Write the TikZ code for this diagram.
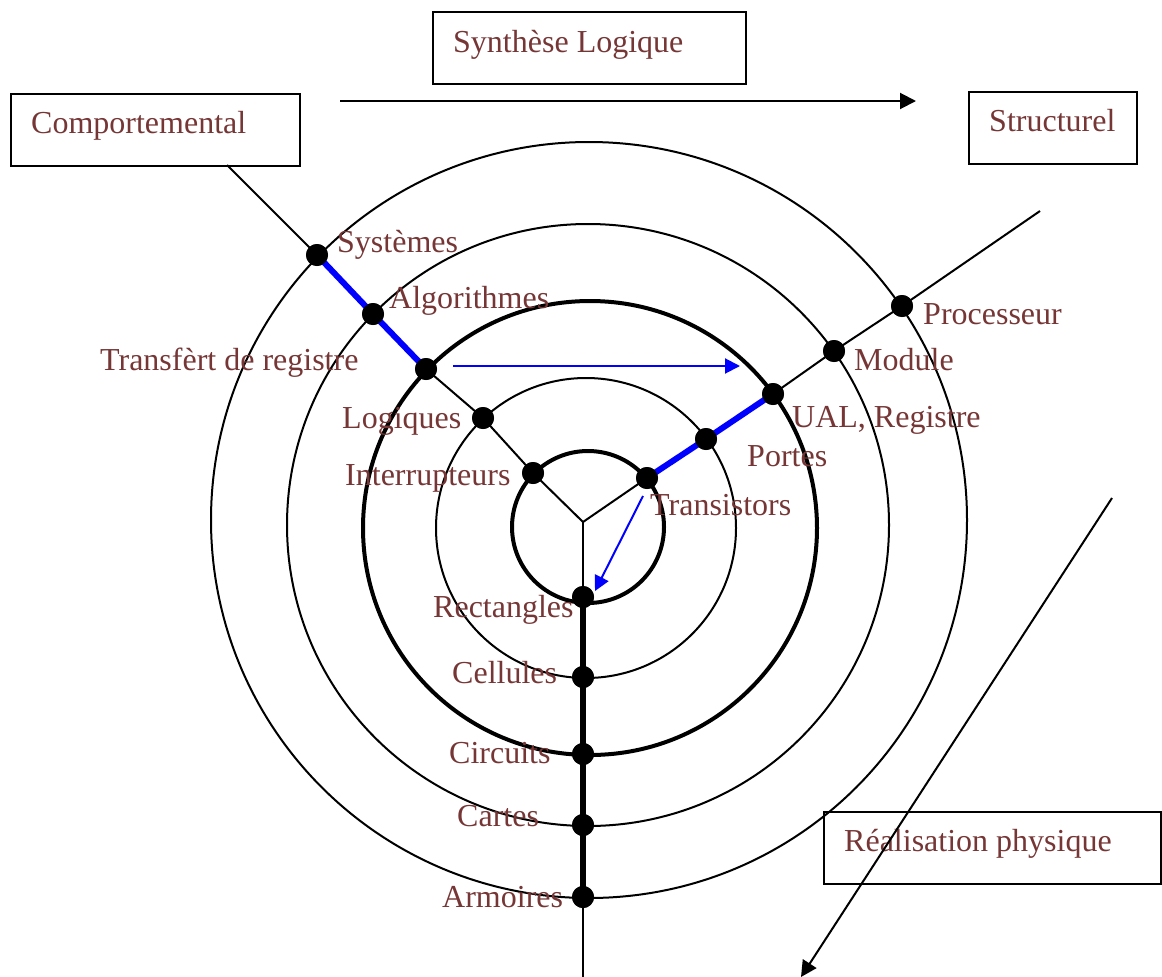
\documentclass[tikz,border=0pt]{standalone}
\usepackage{fontspec}
\setmainfont{Liberation Serif}
\usetikzlibrary{arrows.meta}
\definecolor{labelred}{RGB}{118,54,54}
\begin{document}
\begin{tikzpicture}[x=1pt,y=-1pt,
  every node/.style={font=\fontsize{32}{38}\selectfont},
  lab/.style={text=labelred, anchor=base west, inner sep=0pt},
  dot/.style={circle, fill=black, minimum size=22pt, inner sep=0pt},
  ring/.style={line width=2pt},
  thickring/.style={line width=4pt},
  axis/.style={line width=2pt},
  hl/.style={blue, line width=6pt},
  frame/.style={draw, line width=2pt, inner sep=0pt, anchor=north west},
  blacktip/.style={line width=2pt, -{Triangle[length=16pt,width=16pt]}},
  bluetip/.style={blue, line width=2pt, -{Triangle[length=15pt,width=15pt]}}
]
\useasboundingbox (0,0) rectangle (1162,977);

% concentric levels of abstraction
\draw[thickring] (588,527) circle[radius=76pt];
\draw[ring]      (586,528) circle[radius=150pt];
\draw[thickring] (590,528) circle[radius=227pt];
\draw[ring]      (588,525) circle[radius=301pt];
\draw[ring]      (589,520) circle[radius=378pt];

% centre and free ends of the three axes
\coordinate (c)     at (583,522);
\coordinate (ulend) at (227,165);
\coordinate (rend)  at (1040,211);
\coordinate (dend)  at (583,977);

% points on the behavioural axis
\node[dot] (inter) at (533,473) {};
\node[dot] (logi)  at (483,418) {};
\node[dot] (trans) at (426,369) {};
\node[dot] (algo)  at (373,314) {};
\node[dot] (sys)   at (317,255) {};
% points on the structural axis
\node[dot] (tor)  at (647,478) {};
\node[dot] (port) at (706,439) {};
\node[dot] (ual)  at (773,394) {};
\node[dot] (mod)  at (834,351) {};
\node[dot] (proc) at (902,306) {};
% points on the physical axis
\node[dot] (rect) at (583,597) {};
\node[dot] (cell) at (583,677) {};
\node[dot] (circ) at (583,754) {};
\node[dot] (cart) at (583,825) {};
\node[dot] (armo) at (583,897) {};

% axes
\draw[axis] (c) -- (inter.center) -- (logi.center) -- (trans.center)
  -- (algo.center) -- (sys.center) -- (ulend);
\draw[axis] (c) -- (tor.center) -- (port.center) -- (ual.center)
  -- (mod.center) -- (proc.center) -- (rend);
\draw[axis] (c) -- (rect.center);
\draw[line width=6pt] (rect.center) -- (armo.center);
\draw[axis] (armo.center) -- (dend);

% highlighted paths
\draw[hl] (sys.center) -- (algo.center) -- (trans.center);
\draw[hl] (tor.center) -- (port.center) -- (ual.center);

% dots stay on top of the paths
\foreach \n in {inter,logi,trans,algo,sys,tor,port,ual,mod,proc,rect,cell,circ,cart,armo}
  \fill (\n) circle[radius=11pt];

% design flow arrows
\coordinate (ha) at (453,366);
\coordinate (hb) at (740,366);
\draw[bluetip] (ha) -- (hb);
\coordinate (da) at (643,496);
\coordinate (db) at (595,591);
\draw[bluetip] (da) -- (db);

% level labels
\node[lab] (lsys)   at (337,252) {Systèmes};
\node[lab] (lalgo)  at (389,308) {Algorithmes};
\node[lab] (ltrans) at (100,370) {Transfèrt de registre};
\node[lab] (llogi)  at (342,428) {Logiques};
\node[lab] (linter) at (345,485) {Interrupteurs};
\node[lab] (ltor)   at (650,515) {Transistors};
\node[lab] (lport)  at (747,466) {Portes};
\node[lab] (lual)   at (792,427) {UAL, Registre};
\node[lab] (lmod)   at (854,370) {Module};
\node[lab] (lproc)  at (923,324) {Processeur};
\node[lab] (lrect)  at (433,617) {Rectangles};
\node[lab] (lcell)  at (452,683) {Cellules};
\node[lab] (lcirc)  at (449,763) {Circuits};
\node[lab] (lcart)  at (457,826) {Cartes};
\node[lab] (larmo)  at (442,907) {Armoires};

% domain boxes
\node[frame, minimum width=313pt, minimum height=72pt] (bsyn) at (432,11) {};
\node[lab] (tsyn) at (453,52) {Synthèse Logique};
\node[frame, minimum width=289pt, minimum height=72pt] (bcomp) at (10,93) {};
\node[lab] (tcomp) at (31,133) {Comportemental};
\node[frame, minimum width=168pt, minimum height=72pt] (bstruct) at (968,91) {};
\node[lab] (tstruct) at (989,131) {Structurel};
\node[frame, minimum width=337pt, minimum height=72pt] (bphys) at (823,811) {};
\node[lab] (tphys) at (844,851) {Réalisation physique};

% direction arrows
\coordinate (sa) at (340,101);
\coordinate (sb) at (916,101);
\draw[blacktip] (sa) -- (sb);
\coordinate (pa) at (1112,498);
\coordinate (pb) at (801,977);
\draw[blacktip] (pa) -- (pb);
\end{tikzpicture}
\end{document}
